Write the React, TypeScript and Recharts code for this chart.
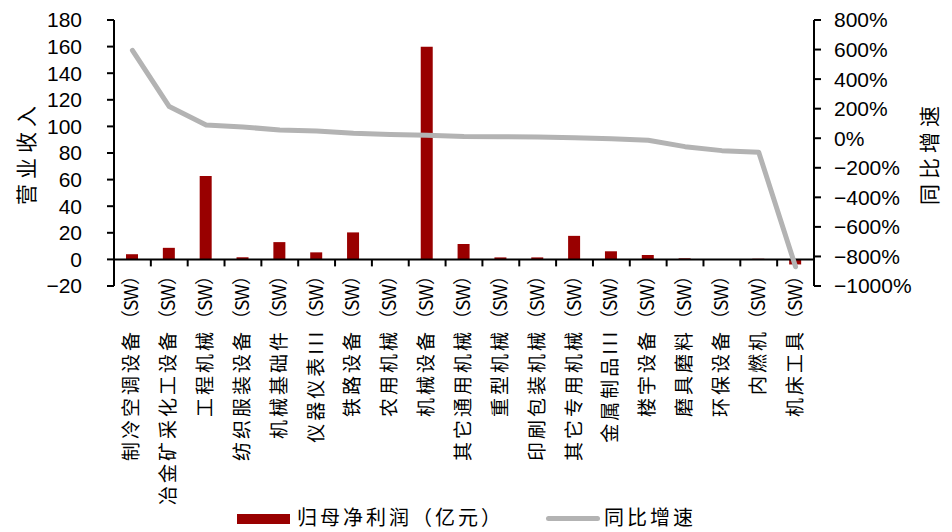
import React from 'react';
import { ComposedChart, Bar, Line, XAxis, YAxis, ReferenceLine } from 'recharts';

// 申万机械二级行业：归母净利润（亿元）与同比增速
const industries = [
  '制冷空调设备（SW）',
  '冶金矿采化工设备（SW）',
  '工程机械（SW）',
  '纺织服装设备（SW）',
  '机械基础件（SW）',
  '仪器仪表III（SW）',
  '铁路设备（SW）',
  '农用机械（SW）',
  '机械设备（SW）',
  '其它通用机械（SW）',
  '重型机械（SW）',
  '印刷包装机械（SW）',
  '其它专用机械（SW）',
  '金属制品III（SW）',
  '楼宇设备（SW）',
  '磨具磨料（SW）',
  '环保设备（SW）',
  '内燃机（SW）',
  '机床工具（SW）',
];

const netProfit = [3.9, 8.7, 62.7, 1.6, 13.0, 5.3, 20.3, 0.1, 159.8, 11.6, 1.5, 1.5, 17.7, 6.1, 3.3, 0.8, 0.1, 0.5, -3.8];

// 同比增速，单位 %
const yoyGrowth = [595, 214, 90, 76, 56, 49, 34, 25, 20, 12, 10, 8, 3, -3, -14, -57, -84, -95, -870];

const leftTicks = [-20, 0, 20, 40, 60, 80, 100, 120, 140, 160, 180];
const rightTicks = [-1000, -800, -600, -400, -200, 0, 200, 400, 600, 800];

const BAR_COLOR = '#990000';
const LINE_COLOR = '#b3b3b3';
const NUM_FONT = '"Liberation Sans", Arial, sans-serif';
const CJK_FONT = '"Noto Sans CJK SC", sans-serif';

const chartData = industries.map((name, i) => ({
  name,
  profit: netProfit[i],
  yoy: yoyGrowth[i],
}));

const minus = (v: number) => (v < 0 ? '\u2212' + Math.abs(v) : String(v));

// 零轴：横线 + 类目分隔刻度
const ZeroAxis = (props: any) => {
  const { x1, y1, x2 } = props;
  const n = industries.length;
  const step = (x2 - x1) / n;
  const marks = [];
  for (let i = 1; i < n; i++) {
    const x = x1 + step * i;
    marks.push(<line key={i} x1={x} x2={x} y1={y1} y2={y1 + 7} stroke="#000" strokeWidth={2} />);
  }
  return (
    <g>
      <line x1={x1} x2={x2} y1={y1} y2={y1} stroke="#000" strokeWidth={2} />
      {marks}
    </g>
  );
};

// 行业名逐字加宽，"（SW）"后缀保持紧凑
const CategoryTick = ({ x, y, payload }: any) => {
  const label: string = payload.value;
  const cut = label.indexOf('（');
  const head = cut >= 0 ? label.slice(0, cut) : label;
  const tail = cut >= 0 ? label.slice(cut) : '';
  return (
    <text
      transform={`translate(${x + 6},${y - 27}) rotate(-90)`}
      textAnchor="end"
      fontSize={19}
      fontFamily={CJK_FONT}
      fill="#000"
    >
      <tspan letterSpacing={3}>{head}</tspan>
      <tspan letterSpacing={-1}>{tail}</tspan>
    </text>
  );
};

const SideTitle = ({ viewBox, value, cx }: any) => {
  const cy = viewBox.y + viewBox.height / 2;
  return (
    <text
      transform={`translate(${cx},${cy}) rotate(-90)`}
      textAnchor="middle"
      dominantBaseline="central"
      fontSize={21}
      fontFamily={CJK_FONT}
      letterSpacing={5}
      fill="#000"
    >
      {value}
    </text>
  );
};

export default function App() {
  return (
    <div style={{ position: 'fixed', left: 0, top: 0, width: 952, height: 532, background: '#fff' }}>
      <ComposedChart
        width={952}
        height={532}
        data={chartData}
        margin={{ top: 20, right: 0, bottom: 0, left: 0 }}
      >
        <XAxis
          dataKey="name"
          height={246}
          axisLine={false}
          tickLine={false}
          interval={0}
          tick={<CategoryTick />}
        />
        <YAxis
          yAxisId="left"
          width={114}
          domain={[-20, 180]}
          ticks={leftTicks}
          interval={0}
          allowDataOverflow
          axisLine={{ stroke: '#000', strokeWidth: 2 }}
          tickLine={{ stroke: '#000', strokeWidth: 2 }}
          tickSize={7}
          tickMargin={25}
          tickFormatter={minus}
          tick={{ fill: '#000', fontSize: 21, fontFamily: NUM_FONT }}
          label={(p: any) => <SideTitle {...p} value="营业收入" cx={25} />}
        />
        <YAxis
          yAxisId="right"
          orientation="right"
          width={138}
          domain={[-1000, 800]}
          ticks={rightTicks}
          interval={0}
          allowDataOverflow
          axisLine={{ stroke: '#000', strokeWidth: 2 }}
          tickLine={{ stroke: '#000', strokeWidth: 2 }}
          tickSize={7}
          tickMargin={13}
          tickFormatter={(v: number) => minus(v) + '%'}
          tick={{ fill: '#000', fontSize: 21, fontFamily: NUM_FONT }}
          label={(p: any) => <SideTitle {...p} value="同比增速" cx={928} />}
        />
        <ReferenceLine yAxisId="left" y={0} shape={<ZeroAxis />} ifOverflow="visible" />
        <Bar
          yAxisId="left"
          dataKey="profit"
          fill={BAR_COLOR}
          barSize={12}
          isAnimationActive={false}
        />
        <Line
          yAxisId="right"
          dataKey="yoy"
          type="linear"
          stroke={LINE_COLOR}
          strokeWidth={5}
          strokeLinecap="round"
          strokeLinejoin="round"
          dot={false}
          activeDot={false}
          isAnimationActive={false}
        />
      </ComposedChart>
      <div
        style={{
          position: 'absolute',
          top: 507,
          left: 0,
          width: 952,
          height: 24,
          fontFamily: CJK_FONT,
          fontSize: 20,
          letterSpacing: 3,
          color: '#000',
        }}
      >
        <span style={{ position: 'absolute', left: 237, top: 7, width: 53, height: 10, background: BAR_COLOR }} />
        <span style={{ position: 'absolute', left: 297, top: -2, lineHeight: '24px', whiteSpace: 'nowrap' }}>
          归母净利润（亿元）
        </span>
        <span
          style={{ position: 'absolute', left: 546, top: 9, width: 54, height: 5, borderRadius: 3, background: LINE_COLOR }}
        />
        <span style={{ position: 'absolute', left: 604, top: -2, lineHeight: '24px', whiteSpace: 'nowrap' }}>
          同比增速
        </span>
      </div>
    </div>
  );
}
